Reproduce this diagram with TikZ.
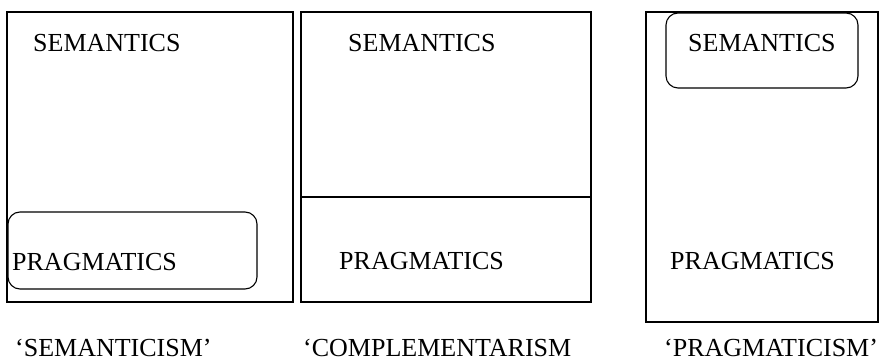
\documentclass[tikz,border=0pt]{standalone}
\usepackage{fontspec}
\setmainfont{Liberation Serif}
\begin{document}
\begin{tikzpicture}[x=1pt,y=-1pt,
  frame/.style={draw=black,line width=1.3pt},
  inner/.style={draw=black,line width=1.1pt,rounded corners=12pt},
  lbl/.style={anchor=base west,inner sep=0pt,font=\fontsize{26}{30}\selectfont}]
\useasboundingbox (0,0) rectangle (884,363);
% box 1: semanticism
\draw[frame] (7,12) rectangle (293,302);
\draw[inner] (8,212) rectangle (257,289);
\node[lbl] (s1) at (33,52) {SEMANTICS};
\node[lbl] (p1) at (12,271) {PRAGMATICS};
% box 2: complementarism
\draw[frame] (301,12) rectangle (591,302);
\draw[frame] (301,197) -- (591,197);
\node[lbl] (s2) at (348,52) {SEMANTICS};
\node[lbl] (p2) at (339,270) {PRAGMATICS};
% box 3: pragmaticism
\draw[frame] (646,12) rectangle (878,322);
\draw[inner] (666,13) rectangle (858,88);
\node[lbl] (s3) at (688,52) {SEMANTICS};
\node[lbl] (p3) at (670,270) {PRAGMATICS};
% captions
\node[lbl] (c1) at (15,357) {‘SEMANTICISM’};
\node[lbl] (c2) at (303,357) {‘COMPLEMENTARISM};
\node[lbl] (c3) at (664,357) {‘PRAGMATICISM’};
\end{tikzpicture}
\end{document}
